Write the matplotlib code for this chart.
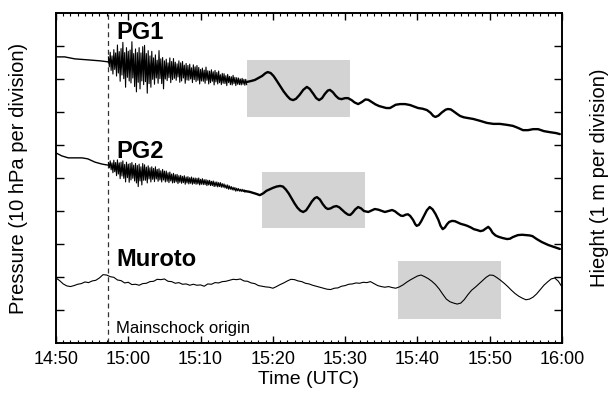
import numpy as np
import matplotlib
matplotlib.use("Agg")
import matplotlib.pyplot as plt
from matplotlib.patches import Rectangle

plt.rcParams['font.family'] = ['Liberation Sans', 'DejaVu Sans']

# ---------------- data (time in minutes after 14:50 UTC) ----------------
tick_minutes = [0, 10, 20, 30, 40, 50, 60, 70]
tick_labels = ["14:50", "15:00", "15:10", "15:20", "15:30", "15:40", "15:50", "16:00"]
mainshock_t = 7.2

# PG1 pressure (hPa, arbitrary offset)
pg1_pre_t = [0.0, 1.2, 2.6, 4.4, 6.1, 7.2]
pg1_pre_v = [86.7, 86.7, 86.1, 85.8, 85.5, 85.2]
noise_t0, noise_dt = 7.25, 0.25
pg1_hi = [86.7, 88.1, 87.0, 88.9, 87.9, 90.3, 88.3, 89.2, 91.1, 88.0, 89.5, 88.4,
          88.8, 91.3, 87.7, 89.1, 88.0, 89.5, 87.9, 89.8, 90.2, 87.7, 88.6, 87.0,
          88.4, 86.4, 87.3, 85.7, 88.6, 86.1, 86.5, 85.5, 86.0, 84.9, 86.4, 85.3,
          86.2, 85.1, 84.6, 85.5, 84.9, 85.3, 84.2, 84.7, 84.1, 84.5, 83.4, 84.3,
          83.7, 84.1, 83.5, 82.9, 83.3, 82.7, 83.6, 82.5, 82.4, 82.8, 82.2, 82.6,
          82.0, 82.4, 81.3, 81.7, 81.6, 81.0, 81.4, 80.8, 80.7, 81.1, 80.5, 80.4,
          80.3, 80.0, 80.2, 79.9, 79.9]
pg1_lo = [83.7, 82.6, 81.5, 82.9, 80.9, 81.8, 79.3, 81.2, 80.1, 77.5, 80.5, 79.4,
          78.8, 80.3, 77.7, 76.1, 79.0, 77.0, 79.4, 78.3, 79.2, 75.7, 78.6, 77.5,
          79.9, 78.4, 80.3, 78.7, 80.1, 78.6, 77.0, 80.0, 79.5, 80.4, 78.9, 79.8,
          80.2, 79.6, 80.6, 79.0, 79.4, 80.3, 78.7, 79.7, 79.6, 80.0, 78.9, 79.8,
          79.2, 79.6, 78.5, 79.4, 79.3, 78.7, 79.6, 78.5, 78.9, 79.3, 78.2, 79.1,
          78.5, 78.9, 78.3, 78.7, 78.6, 78.0, 78.9, 78.3, 78.2, 78.6, 78.0, 78.4,
          78.3, 78.2, 78.4, 78.1, 78.3]
pg1_post_t = [26.4, 27.0, 27.5, 28.0, 28.5, 29.0, 29.3, 29.7, 30.1, 30.5, 31.0, 31.5,
              32.0, 32.4, 32.8, 33.2, 33.7, 34.2, 34.7, 35.1, 35.6, 36.0, 36.4, 36.8,
              37.2, 37.6, 37.9, 38.3, 38.7, 39.1, 39.5, 40.0, 40.4, 40.9, 41.3, 41.8,
              42.3, 42.8, 43.2, 43.7, 44.2, 44.7, 45.2, 45.7, 46.2, 46.6, 47.0, 47.6,
              48.3, 49.0, 49.6, 50.1, 50.7, 51.3, 51.8, 52.2, 52.5, 52.9, 53.4, 53.9,
              54.2, 54.6, 55.0, 55.5, 55.9, 56.4, 56.9, 57.7, 58.7, 59.6, 60.5, 61.4,
              62.4, 63.2, 63.9, 64.6, 65.3, 66.0, 66.7, 67.5, 68.3, 69.2, 69.7]
pg1_post_v = [79.1, 79.4, 79.7, 80.3, 80.9, 81.8, 82.1, 81.8, 80.9, 79.6, 77.9, 76.2,
              74.8, 73.9, 73.6, 74.0, 75.2, 76.7, 77.6, 77.0, 75.5, 74.2, 73.6, 74.2,
              75.5, 76.5, 76.7, 76.0, 74.9, 74.1, 73.9, 74.2, 74.2, 73.6, 72.9, 72.4,
              73.0, 73.8, 73.7, 73.0, 72.3, 71.8, 71.5, 71.2, 71.2, 71.7, 72.2, 72.4,
              72.4, 72.1, 71.6, 71.2, 71.0, 70.6, 69.8, 68.8, 68.5, 68.9, 69.9, 70.7,
              70.9, 70.8, 70.2, 69.4, 68.8, 68.4, 68.2, 67.9, 67.3, 66.7, 66.4, 66.4,
              66.1, 65.8, 65.2, 64.5, 64.5, 64.8, 64.8, 64.2, 63.9, 63.6, 63.3]

# PG2 pressure (hPa, arbitrary offset)
pg2_pre_t = [0.0, 0.8, 1.7, 3.6, 4.4, 5.4, 6.4, 7.2]
pg2_pre_v = [57.6, 56.7, 56.1, 56.1, 55.8, 54.8, 54.2, 53.9]
pg2_hi = [54.7, 55.2, 54.6, 55.4, 54.7, 55.5, 54.6, 54.8, 55.2, 54.1, 54.8, 54.2,
          54.4, 54.7, 53.9, 54.4, 53.8, 54.2, 53.4, 54.4, 54.0, 53.3, 53.7, 53.1,
          53.4, 52.9, 53.4, 52.6, 52.8, 52.2, 52.6, 52.1, 52.1, 51.6, 51.8, 51.2,
          51.4, 51.0, 51.1, 50.7, 50.8, 50.5, 50.7, 50.3, 50.4, 50.1, 50.3, 50.0,
          50.0, 49.9, 50.0, 49.6, 49.8, 49.5, 49.5, 49.3, 49.3, 49.0, 49.1, 48.8,
          48.8, 48.6, 48.6, 48.3, 48.2, 47.9, 47.9, 47.6, 47.4, 47.2, 47.1, 46.9,
          46.8, 46.6, 46.6, 46.4]
pg2_lo = [53.1, 52.5, 51.6, 51.9, 50.7, 51.2, 49.8, 50.6, 49.9, 48.8, 50.1, 48.7,
          49.4, 49.9, 49.1, 48.5, 47.4, 49.1, 47.9, 49.3, 49.3, 48.5, 49.7, 48.8,
          49.6, 48.9, 49.7, 49.0, 49.4, 48.8, 49.4, 48.8, 49.0, 48.6, 49.1, 48.5,
          48.6, 48.8, 48.3, 48.7, 48.4, 48.6, 48.1, 48.5, 48.2, 48.4, 48.1, 48.3,
          48.1, 48.2, 47.9, 48.1, 48.0, 48.0, 47.7, 47.9, 47.7, 47.7, 47.4, 47.5,
          47.3, 47.4, 47.2, 47.2, 47.0, 46.8, 46.6, 46.6, 46.4, 46.3, 46.0, 46.1,
          46.0, 45.9, 45.9, 45.8]
pg2_post_t = [26.0, 26.8, 27.7, 28.2, 28.7, 29.1, 29.6, 30.0, 30.5, 31.0, 31.4, 31.8,
              32.2, 32.6, 33.0, 33.4, 33.8, 34.2, 34.6, 35.0, 35.4, 35.8, 36.1, 36.5,
              36.9, 37.3, 37.6, 38.0, 38.4, 38.8, 39.2, 39.6, 40.0, 40.4, 40.7, 41.0,
              41.4, 41.8, 42.2, 42.6, 43.2, 43.7, 44.1, 44.6, 45.1, 45.5, 46.0, 46.5,
              46.9, 47.3, 47.7, 48.0, 48.4, 48.7, 49.0, 49.4, 49.7, 49.9, 50.2, 50.5,
              50.9, 51.3, 51.7, 52.1, 52.5, 52.9, 53.2, 53.5, 53.8, 54.1, 54.4, 54.8,
              55.2, 55.6, 56.0, 56.5, 56.9, 57.4, 57.8, 58.3, 58.7, 59.1, 59.4, 59.8,
              60.1, 60.4, 60.8, 61.2, 61.8, 62.4, 62.8, 63.2, 63.9, 64.5, 65.0, 65.5,
              65.9, 66.5, 67.2, 68.1, 68.9, 69.7]
pg2_post_v = [46.1, 45.8, 45.2, 44.8, 45.4, 46.1, 46.6, 47.0, 47.4, 47.6, 47.4, 46.5,
              45.3, 43.8, 42.3, 41.0, 40.1, 39.7, 40.2, 41.5, 42.9, 43.9, 44.2, 43.5,
              42.1, 41.0, 40.6, 40.8, 41.3, 41.5, 41.1, 40.3, 39.5, 38.9, 38.8, 39.4,
              40.5, 41.2, 40.8, 40.0, 39.7, 40.2, 40.6, 40.4, 40.0, 39.7, 40.0, 40.3,
              39.9, 39.2, 38.6, 38.5, 38.9, 39.0, 38.5, 37.3, 36.0, 35.5, 35.8, 36.8,
              38.5, 40.2, 41.2, 40.5, 39.1, 37.3, 35.5, 34.5, 35.0, 36.0, 36.7, 37.0,
              36.9, 36.5, 36.1, 35.8, 35.5, 35.0, 34.5, 34.2, 33.9, 34.1, 34.6, 35.2,
              34.5, 33.4, 32.6, 32.2, 31.8, 31.5, 31.6, 32.1, 32.7, 32.8, 32.7, 32.6,
              32.4, 31.5, 30.6, 29.7, 29.1, 28.5]

# Muroto tide gauge height (m, arbitrary offset), sampled every 0.5 min
muroto_dt = 0.5
muroto_h = [1.97, 1.89, 1.79, 1.73, 1.71, 1.74, 1.78, 1.80, 1.85, 1.83,
            1.88, 1.90, 1.97, 2.07, 2.06, 2.01, 1.99, 1.91, 1.89, 1.82,
            1.84, 1.77, 1.78, 1.75, 1.80, 1.81, 1.86, 1.87, 1.93, 1.92,
            1.94, 1.87, 1.86, 1.81, 1.83, 1.78, 1.79, 1.75, 1.78, 1.75,
            1.76, 1.72, 1.79, 1.78, 1.83, 1.82, 1.86, 1.87, 1.90, 1.93,
            1.92, 1.94, 1.88, 1.87, 1.82, 1.80, 1.74, 1.72, 1.70, 1.69,
            1.66, 1.71, 1.77, 1.82, 1.88, 1.93, 1.92, 1.88, 1.86, 1.81,
            1.79, 1.75, 1.72, 1.69, 1.66, 1.63, 1.62, 1.66, 1.67, 1.72,
            1.74, 1.78, 1.79, 1.82, 1.81, 1.84, 1.83, 1.86, 1.80, 1.74,
            1.71, 1.69, 1.71, 1.68, 1.66, 1.70, 1.76, 1.84, 1.91, 1.97,
            2.03, 2.06, 2.01, 1.95, 1.87, 1.77, 1.64, 1.48, 1.33, 1.25,
            1.21, 1.18, 1.21, 1.32, 1.47, 1.60, 1.69, 1.79, 1.89, 1.99,
            2.06, 2.05, 1.98, 1.90, 1.81, 1.71, 1.60, 1.50, 1.42, 1.36,
            1.31, 1.33, 1.39, 1.49, 1.62, 1.75, 1.85, 1.94, 1.97, 1.87,
            1.70]

# highlighted windows: (t_start, t_end, low, high) in each trace's units
pg1_box = (26.4, 40.7, 68.5, 85.8)
pg2_box = (28.5, 42.7, 34.8, 51.8)
muroto_box = (47.3, 61.6, 0.73, 2.48)

# ---------------- figure ----------------
fig = plt.figure(figsize=(6.11, 3.97), dpi=100)
ax = fig.add_axes([56 / 611, 1 - 343 / 397, 506 / 611, 330 / 397])
ax2 = ax.twinx()

ax.set_xlim(0, 70)
ax.set_ylim(0, 100)
ax2.set_ylim(0, 10)

gray = '#d3d3d3'
for box in (pg1_box, pg2_box):
    ax.add_patch(Rectangle((box[0], box[2]), box[1] - box[0], box[3] - box[2],
                           facecolor=gray, edgecolor='none', zorder=0))
ax2.add_patch(Rectangle((muroto_box[0], muroto_box[2]), muroto_box[1] - muroto_box[0],
                        muroto_box[3] - muroto_box[2], facecolor=gray, edgecolor='none', zorder=0))

ax.axvline(mainshock_t, color='#333333', lw=0.9, ls=(0, (4, 3)), zorder=1)


def zigzag(hi, lo):
    n = len(hi)
    t = noise_t0 + noise_dt * np.arange(n)
    tt = np.column_stack([t, t + noise_dt / 2]).ravel()
    vv = np.column_stack([hi, lo]).ravel()
    return tt, vv


for pre_t, pre_v, hi, lo, post_t, post_v in (
        (pg1_pre_t, pg1_pre_v, pg1_hi, pg1_lo, pg1_post_t, pg1_post_v),
        (pg2_pre_t, pg2_pre_v, pg2_hi, pg2_lo, pg2_post_t, pg2_post_v)):
    ax.plot(pre_t, pre_v, color='black', lw=1.0, zorder=3)
    zt, zv = zigzag(hi, lo)
    ax.plot(zt, zv, color='black', lw=0.8, zorder=3)
    ax.plot(post_t, post_v, color='black', lw=1.7, zorder=3,
            solid_joinstyle='round', solid_capstyle='round')

muroto_t = muroto_dt * np.arange(len(muroto_h))
ax2.plot(muroto_t, muroto_h, color='black', lw=0.8, zorder=3)

# labels on traces
ax.text(8.3, 94.2, "PG1", fontsize=17, fontweight='bold', ha='left', va='center')
ax.text(8.3, 57.9, "PG2", fontsize=17, fontweight='bold', ha='left', va='center')
ax.text(8.3, 25.2, "Muroto", fontsize=17, fontweight='bold', ha='left', va='center')
ax.text(8.3, 4.5, "Mainschock origin", fontsize=12, ha='left', va='center')

# ticks
ax.set_xticks(tick_minutes)
ax.set_xticklabels(tick_labels, fontsize=13)
ax.set_xticks(np.arange(0, 71, 1), minor=True)
ax.set_yticks(np.arange(10, 100, 10))
ax.set_yticklabels([])
ax2.set_yticks(np.arange(1, 10, 1))
ax2.set_yticklabels([])
ax.tick_params(axis='x', which='major', direction='in', length=5, width=1, top=True, pad=6)
ax.tick_params(axis='x', which='minor', direction='in', length=2.5, width=0.8, top=True)
ax.tick_params(axis='y', which='major', direction='in', length=6, width=1, left=True, right=False)
ax2.tick_params(axis='y', which='major', direction='in', length=6, width=1, right=True)
for a in (ax, ax2):
    for s in a.spines.values():
        s.set_linewidth(1.2)

ax.set_xlabel("Time (UTC)", fontsize=14, labelpad=2)
ax.set_ylabel("Pressure (10 hPa per division)", fontsize=14.5)
ax.yaxis.set_label_coords(-0.056, 0.5)
ax2.set_ylabel("Hieght (1 m per division)", fontsize=14.5)
ax2.yaxis.set_label_coords(1.055, 0.5)

fig.savefig("out.png", dpi=100)
